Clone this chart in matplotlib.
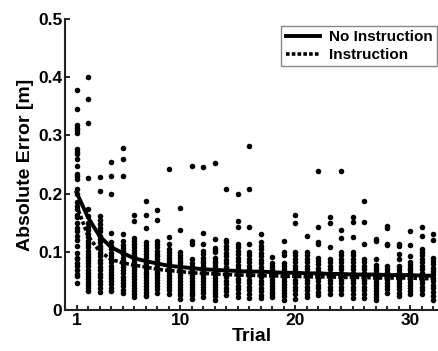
import matplotlib
matplotlib.use("Agg")
import matplotlib.pyplot as plt

plt.rcParams['font.family'] = ['Liberation Sans', 'DejaVu Sans']
plt.rcParams['font.weight'] = 'bold'

trials = list(range(1, 33))

abs_error_by_trial = [
    [0.378, 0.346, 0.318, 0.313, 0.309, 0.304, 0.277, 0.272, 0.268, 0.26, 0.247, 0.234, 0.23, 0.225, 0.208, 0.199, 0.185, 0.179, 0.173, 0.164, 0.159, 0.15, 0.141, 0.135, 0.127, 0.121, 0.11, 0.098, 0.089, 0.087, 0.081, 0.075, 0.069, 0.061, 0.058, 0.046],
    [0.401, 0.362, 0.322, 0.227, 0.173, 0.161, 0.150, 0.143, 0.137, 0.131, 0.125, 0.119, 0.113, 0.108, 0.102, 0.097, 0.091, 0.086, 0.080, 0.075, 0.069, 0.064, 0.058, 0.053, 0.048, 0.043, 0.038, 0.033],
    [0.229, 0.205, 0.161, 0.154, 0.148, 0.141, 0.135, 0.128, 0.122, 0.116, 0.110, 0.104, 0.098, 0.092, 0.086, 0.080, 0.074, 0.068, 0.062, 0.056, 0.050, 0.044, 0.038, 0.031],
    [0.254, 0.231, 0.199, 0.133, 0.116, 0.110, 0.104, 0.098, 0.093, 0.087, 0.082, 0.076, 0.071, 0.066, 0.060, 0.055, 0.049, 0.044, 0.038, 0.032],
    [0.278, 0.26, 0.231, 0.13, 0.118, 0.112, 0.107, 0.101, 0.096, 0.090, 0.085, 0.079, 0.074, 0.068, 0.063, 0.057, 0.052, 0.046, 0.041, 0.035, 0.030],
    [0.163, 0.153, 0.123, 0.118, 0.113, 0.108, 0.103, 0.098, 0.093, 0.088, 0.083, 0.078, 0.073, 0.068, 0.063, 0.058, 0.053, 0.048, 0.043, 0.038, 0.033, 0.027, 0.022],
    [0.187, 0.164, 0.141, 0.116, 0.111, 0.106, 0.101, 0.096, 0.091, 0.086, 0.081, 0.076, 0.071, 0.066, 0.061, 0.056, 0.051, 0.046, 0.041, 0.036, 0.031, 0.026, 0.024],
    [0.171, 0.154, 0.118, 0.113, 0.108, 0.102, 0.097, 0.092, 0.087, 0.082, 0.077, 0.072, 0.066, 0.061, 0.056, 0.051, 0.046, 0.041, 0.036, 0.030],
    [0.243, 0.125, 0.114, 0.105, 0.100, 0.095, 0.090, 0.085, 0.080, 0.075, 0.070, 0.065, 0.060, 0.055, 0.050, 0.045, 0.040, 0.035, 0.028],
    [0.175, 0.137, 0.100, 0.095, 0.090, 0.085, 0.080, 0.075, 0.070, 0.065, 0.060, 0.055, 0.050, 0.045, 0.040, 0.035, 0.030, 0.025, 0.019],
    [0.247, 0.119, 0.113, 0.088, 0.080, 0.075, 0.070, 0.065, 0.060, 0.055, 0.050, 0.045, 0.040, 0.035, 0.030, 0.025, 0.019],
    [0.245, 0.133, 0.114, 0.102, 0.096, 0.090, 0.085, 0.080, 0.075, 0.070, 0.065, 0.060, 0.055, 0.050, 0.045, 0.040, 0.035, 0.029, 0.023],
    [0.253, 0.122, 0.107, 0.103, 0.099, 0.090, 0.085, 0.080, 0.075, 0.070, 0.065, 0.060, 0.055, 0.050, 0.045, 0.040, 0.035, 0.030, 0.024, 0.018],
    [0.208, 0.121, 0.116, 0.110, 0.104, 0.098, 0.092, 0.086, 0.080, 0.074, 0.068, 0.062, 0.056, 0.050, 0.044, 0.038, 0.032, 0.026],
    [0.2, 0.153, 0.142, 0.114, 0.108, 0.102, 0.096, 0.090, 0.084, 0.078, 0.072, 0.066, 0.060, 0.054, 0.048, 0.042, 0.036, 0.030, 0.023],
    [0.281, 0.208, 0.142, 0.114, 0.100, 0.094, 0.088, 0.082, 0.076, 0.070, 0.064, 0.058, 0.052, 0.046, 0.040, 0.034, 0.028, 0.021],
    [0.13, 0.116, 0.110, 0.104, 0.098, 0.092, 0.086, 0.080, 0.074, 0.068, 0.062, 0.056, 0.050, 0.044, 0.038, 0.032, 0.026, 0.021],
    [0.091, 0.081, 0.076, 0.071, 0.066, 0.061, 0.056, 0.051, 0.046, 0.041, 0.036, 0.031, 0.027, 0.023],
    [0.118, 0.099, 0.094, 0.080, 0.075, 0.070, 0.065, 0.060, 0.055, 0.050, 0.045, 0.040, 0.035, 0.030, 0.024, 0.018],
    [0.163, 0.15, 0.100, 0.094, 0.088, 0.082, 0.076, 0.070, 0.064, 0.058, 0.052, 0.046, 0.040, 0.034, 0.028, 0.019],
    [0.127, 0.100, 0.094, 0.088, 0.082, 0.076, 0.070, 0.064, 0.058, 0.052, 0.046, 0.040, 0.034, 0.028, 0.022],
    [0.238, 0.142, 0.116, 0.113, 0.090, 0.085, 0.079, 0.073, 0.067, 0.061, 0.055, 0.049, 0.043, 0.037, 0.031, 0.025],
    [0.16, 0.149, 0.108, 0.087, 0.082, 0.076, 0.070, 0.064, 0.058, 0.052, 0.046, 0.040, 0.034, 0.028],
    [0.238, 0.137, 0.124, 0.100, 0.095, 0.087, 0.082, 0.076, 0.070, 0.064, 0.058, 0.052, 0.046, 0.040, 0.034, 0.028],
    [0.16, 0.151, 0.125, 0.100, 0.094, 0.088, 0.082, 0.076, 0.070, 0.064, 0.058, 0.052, 0.046, 0.040, 0.034, 0.027, 0.020],
    [0.187, 0.151, 0.114, 0.087, 0.082, 0.076, 0.070, 0.064, 0.058, 0.052, 0.046, 0.040, 0.034, 0.027, 0.020],
    [0.122, 0.118, 0.088, 0.078, 0.073, 0.068, 0.063, 0.058, 0.053, 0.048, 0.043, 0.038, 0.033, 0.028, 0.023, 0.018],
    [0.145, 0.141, 0.113, 0.111, 0.076, 0.071, 0.066, 0.061, 0.056, 0.051, 0.046, 0.041, 0.036, 0.030],
    [0.113, 0.11, 0.096, 0.088, 0.076, 0.071, 0.066, 0.061, 0.056, 0.051, 0.046, 0.041, 0.036, 0.030, 0.024],
    [0.135, 0.111, 0.092, 0.083, 0.078, 0.073, 0.068, 0.063, 0.058, 0.053, 0.048, 0.043, 0.038, 0.033, 0.027],
    [0.142, 0.127, 0.104, 0.100, 0.094, 0.088, 0.082, 0.076, 0.070, 0.064, 0.058, 0.052, 0.046, 0.040, 0.034, 0.028],
    [0.13, 0.121, 0.090, 0.085, 0.079, 0.073, 0.067, 0.061, 0.055, 0.049, 0.043, 0.037, 0.031, 0.024, 0.017],
]

fit_no_instruction = [0.202, 0.159, 0.127, 0.108, 0.098, 0.089, 0.084, 0.080, 0.076, 0.074,
                      0.072, 0.070, 0.069, 0.068, 0.067, 0.066, 0.066, 0.065, 0.064, 0.064,
                      0.063, 0.063, 0.062, 0.062, 0.061, 0.061, 0.061, 0.060, 0.060, 0.060,
                      0.059, 0.059]
fit_instruction = [0.180, 0.127, 0.101, 0.087, 0.081, 0.077, 0.074, 0.070, 0.068, 0.066,
                   0.064, 0.063, 0.062, 0.061, 0.060, 0.060, 0.059, 0.059, 0.058, 0.058,
                   0.057, 0.057, 0.057, 0.056, 0.056, 0.056, 0.055, 0.055, 0.055, 0.055,
                   0.054, 0.054]

x_ticks = [1, 10, 20, 30]
y_ticks = [0, 0.1, 0.2, 0.3, 0.4, 0.5]
y_tick_labels = ['0', '0.1', '0.2', '0.3', '0.4', '0.5']

fig = plt.figure(figsize=(4.38, 3.51), dpi=100)
ax = fig.add_axes([0.1484, 0.1168, 0.8516, 0.8291])

xs, ys = [], []
for t, vals in zip(trials, abs_error_by_trial):
    xs.extend([t] * len(vals))
    ys.extend(vals)
ax.plot(xs, ys, 'o', color='black', markersize=4.0, markeredgewidth=0, zorder=2)

ax.plot(trials, fit_no_instruction, '-', color='black', lw=2.8, label='No Instruction', zorder=3)
ax.plot(trials, fit_instruction, color='black', lw=2.6, linestyle=(0, (1.0, 0.6)),
        label='Instruction', zorder=3)

ax.set_xlim(0, 32.4)
ax.set_ylim(0, 0.5)
ax.set_xticks(x_ticks)
ax.set_xticks(trials, minor=True)
ax.set_yticks(y_ticks)
ax.set_yticklabels(y_tick_labels)
ax.tick_params(axis='both', which='both', direction='in', labelsize=12.5, width=1.2, pad=2)
ax.tick_params(axis='both', which='major', length=3.5)
ax.tick_params(axis='x', which='minor', length=3)
for s in ['top', 'right']:
    ax.spines[s].set_visible(False)
for s in ['left', 'bottom']:
    ax.spines[s].set_linewidth(1.5)
    ax.spines[s].set_color('#222222')

ax.set_xlabel('Trial', fontsize=14, fontweight='bold', labelpad=0)
ax.set_ylabel('Absolute Error [m]', fontsize=14, fontweight='bold', labelpad=3)

leg = ax.legend(loc='upper right', bbox_to_anchor=(437 / 438, 1 - 25.5 / 351),
                bbox_transform=fig.transFigure, fontsize=11, frameon=True,
                fancybox=False, edgecolor='#888888', framealpha=1,
                handlelength=2.2, handletextpad=0.6, borderpad=0.3, labelspacing=0.25,
                borderaxespad=0)
leg.get_frame().set_linewidth(1.0)
for t in leg.get_texts():
    t.set_fontweight('bold')

fig.savefig('out.png', dpi=100)
